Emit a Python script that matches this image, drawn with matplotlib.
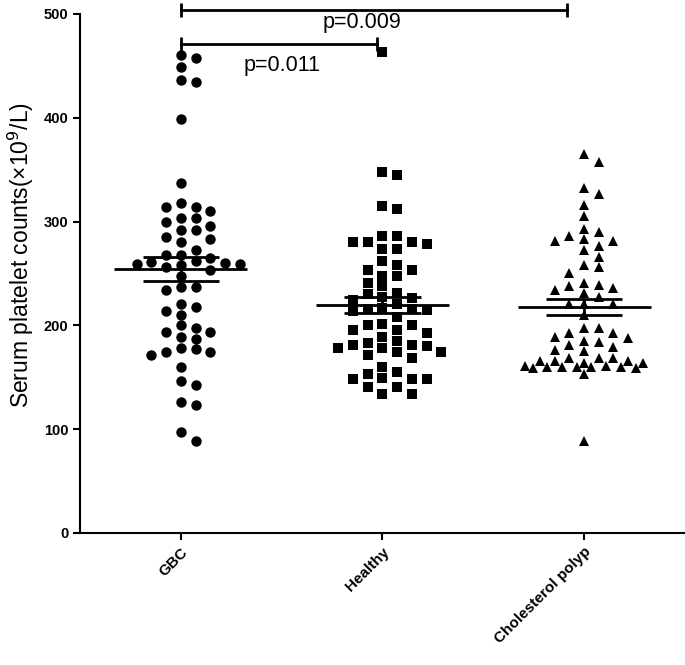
import numpy as np
import matplotlib
matplotlib.use('Agg')
import matplotlib.pyplot as plt

# data
categories = ['GBC', 'Healthy', 'Cholesterol polyp']
gbc = [460, 458, 449, 436, 434, 399, 337,
       318, 314, 314, 310, 303, 300, 303, 296, 292, 292, 283, 285, 280, 273, 268, 268,
       265, 261, 259, 256, 258, 253, 259, 260, 262, 248, 237, 234, 237,
       218, 210, 214, 221, 197, 187, 194, 189, 194, 200,
       178, 171, 174, 174, 177, 160, 143, 146, 126, 123, 89, 97]
healthy = [463, 345, 348, 315, 312, 286, 280, 278, 274, 274, 280, 280, 286,
           262, 253, 248, 253, 258, 248, 238, 241,
           231, 227, 224, 221, 226, 230, 214, 216, 216, 217, 208, 215,
           196, 193, 201, 200, 200, 196,
           181, 180, 178, 185, 174, 183, 169, 189, 171, 174, 178, 181,
           155, 148, 149, 141, 148, 148, 153, 141, 160, 134, 134]
chol = [365, 357, 332, 327, 316, 305,
        293, 286, 281, 276, 281, 283, 273, 290, 266, 256, 250, 258,
        241, 238, 234, 236, 239, 231, 227, 221, 221, 221, 210,
        197, 197, 193, 189, 193, 185, 184, 188, 181, 176, 175, 179,
        161, 160, 166, 159, 164, 169, 159, 160, 169, 153, 169, 160, 166, 160, 166, 160, 164, 161,
        89]
groups = [gbc, healthy, chol]
markers = ['o', 's', '^']
pvalues = ['p=0.011', 'p=0.009']

fig = plt.figure(figsize=(6.85, 6.65), dpi=100)
ax = fig.add_axes([0.1168, 0.1985, 0.883, 0.7805])
ax.set_xlim(-0.5, 2.5)
ax.set_ylim(0, 500)


def swarm_x(vals, center, step=14.7, dist=9.5, max_k=4):
    # greedy beeswarm in pixel space, width capped at +-max_k columns
    vals = np.asarray(vals, float)
    pts = ax.transData.transform(np.column_stack([np.full(len(vals), center), vals]))
    cx = pts[0, 0]
    ypx = pts[:, 1]
    cands = [0.0]
    for k in range(1, max_k + 1):
        cands += [k, -k]
    for k in range(max_k):
        cands += [k + 0.5, -(k + 0.5)]
    placed = []
    xs = np.empty(len(vals))
    for i in np.argsort(-vals):
        best, best_d = None, -1
        for c in cands:
            x = cx + c * step
            d = min([np.hypot(x - px, ypx[i] - py) for px, py in placed] + [1e9])
            if d >= dist:
                best = x
                break
            if d > best_d:
                best, best_d = x, d
        placed.append((best, ypx[i]))
        xs[i] = best
    return ax.transData.inverted().transform(np.column_stack([xs, ypx]))[:, 0]


for i, (vals, m) in enumerate(zip(groups, markers)):
    xs = swarm_x(vals, i)
    ax.plot(xs, vals, linestyle='none', marker=m, markersize=7.5,
            color='black', markeredgewidth=0, zorder=3)
    mean = np.mean(vals)
    sem = np.std(vals, ddof=1) / np.sqrt(len(vals))
    ax.hlines(mean, i - 0.33, i + 0.33, color='black', lw=2, zorder=4)
    ax.hlines([mean - sem, mean + sem], i - 0.19, i + 0.19, color='black', lw=2, zorder=4)
    ax.vlines(i, mean - sem, mean + sem, color='black', lw=2, zorder=4)

# significance brackets
brackets = [(0, 0.975, 471), (0, 1.915, 504)]
text_pos = [(0.5, 450), (0.9, 492)]
for (x0, x1, y), (tx, ty), p in zip(brackets, text_pos, pvalues):
    ax.plot([x0, x1], [y, y], color='black', lw=2, clip_on=False)
    ax.vlines([x0, x1], y - 7, y + 7, color='black', lw=2, clip_on=False)
    ax.text(tx, ty, p, ha='center', va='center', fontsize=15.5, family='Liberation Sans')

ax.spines['top'].set_visible(False)
ax.spines['right'].set_visible(False)
for s in ['left', 'bottom']:
    ax.spines[s].set_linewidth(1.5)
ax.set_yticks([0, 100, 200, 300, 400, 500])
ax.set_xticks(range(len(categories)))
ax.set_xticklabels(categories, rotation=45, ha='right', va='top', rotation_mode='anchor',
                   fontsize=11, fontweight='bold', family='Liberation Sans')
for lab in ax.get_yticklabels():
    lab.set_fontweight('bold')
    lab.set_fontsize(10.5)
    lab.set_family('Liberation Sans')
ax.tick_params(width=1.5, length=5)
ax.set_ylabel('Serum platelet counts(×10$^{9}$/L)', fontsize=16.5, family='Liberation Sans')
ax.yaxis.set_label_coords(-0.072, 0.536)

fig.savefig('out.png', dpi=100)
